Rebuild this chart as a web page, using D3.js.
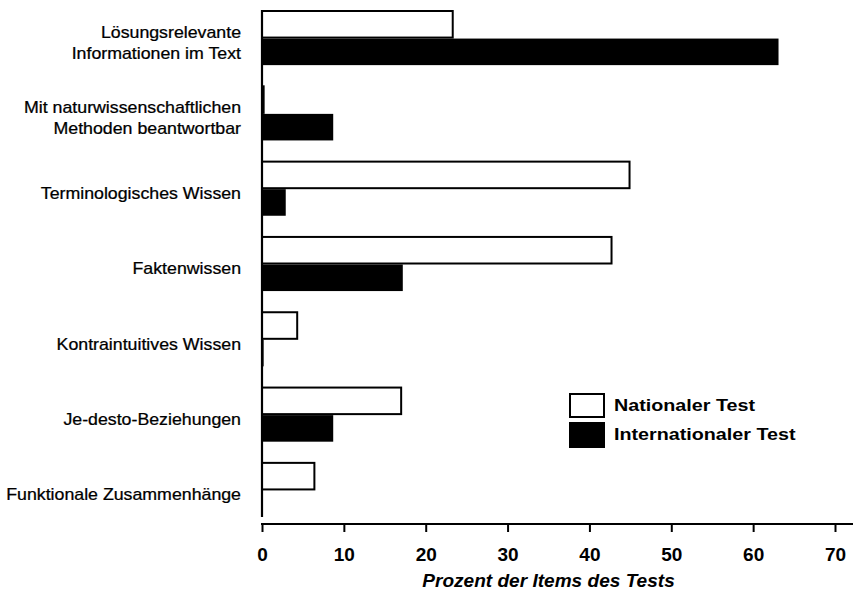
<!DOCTYPE html>
<html>
<head>
<meta charset="utf-8">
<script src="https://cdn.jsdelivr.net/npm/d3@7/dist/d3.min.js"></script>
<style>
  html, body { margin: 0; padding: 0; background: #fff; }
  svg { display: block; }
  text { font-family: "Liberation Sans", Arial, Helvetica, sans-serif; fill: #000; }
</style>
</head>
<body>
<svg id="chart" width="856" height="596"></svg>
<script>
// ---- data ----
const categories = [
  ["Lösungsrelevante", "Informationen im Text"],
  ["Mit naturwissenschaftlichen", "Methoden beantwortbar"],
  ["Terminologisches Wissen"],
  ["Faktenwissen"],
  ["Kontraintuitives Wissen"],
  ["Je-desto-Beziehungen"],
  ["Funktionale Zusammenhänge"]
];
const seriesNames = ["Nationaler Test", "Internationaler Test"];
const nationalValues = [23.3, 0.2, 44.9, 42.7, 4.3, 17.0, 6.4];
const internationalValues = [63.1, 8.7, 2.9, 17.2, 0.2, 8.7, 0];
const xTicks = [0, 10, 20, 30, 40, 50, 60, 70];
const xTitle = "Prozent der Items des Tests";

// ---- layout ----
const svg = d3.select("#chart");
const W = 856, H = 596;
const plotLeft = 262, plotTop = 10, plotBottom = 517, axisY = 524;

const x = d3.scaleLinear().domain([0, 70]).range([plotLeft, 835]);
const catIdx = categories.map((d, i) => i);
const y = d3.scaleBand().domain(catIdx).range([plotTop, plotBottom]).paddingInner(0.268).paddingOuter(0);
const ySub = d3.scaleBand().domain([0, 1]).range([0, y.bandwidth()]).padding(0);

const rows = catIdx.map(i => ({ i, vals: [nationalValues[i], internationalValues[i]] }));

// bars
const g = svg.append("g");
rows.forEach(r => {
  r.vals.forEach((v, s) => {
    if (v <= 0) return;
    const y0 = y(r.i) + ySub(s);
    if (s === 0) {
      g.append("rect")
        .attr("x", x(0)).attr("y", y0 + 1)
        .attr("width", Math.max(0.5, x(v) - x(0)))
        .attr("height", ySub.bandwidth() - 1)
        .attr("fill", "#fff").attr("stroke", "#000").attr("stroke-width", 2);
    } else {
      g.append("rect")
        .attr("x", x(0)).attr("y", y0 + 1)
        .attr("width", Math.max(1, x(v) - x(0)))
        .attr("height", ySub.bandwidth() - 1)
        .attr("fill", "#000");
    }
  });
});

// y axis line
svg.append("line")
  .attr("x1", x(0)).attr("x2", x(0))
  .attr("y1", plotTop).attr("y2", plotBottom)
  .attr("stroke", "#000").attr("stroke-width", 2.2);

// x axis
const xAxis = d3.axisBottom(x).tickValues(xTicks).tickSize(8).tickSizeOuter(0).tickFormat(d3.format("d"));
const ax = svg.append("g").attr("transform", `translate(0,${axisY})`).call(xAxis);
ax.select(".domain").remove();
ax.append("line").attr("x1", x(0) - 1).attr("x2", W - 3).attr("y1", 0).attr("y2", 0)
  .attr("stroke", "#000").attr("stroke-width", 2.2);
ax.selectAll(".tick line").attr("stroke", "#000").attr("stroke-width", 2);
ax.selectAll(".tick text")
  .attr("y", 37).attr("dy", 0)
  .style("font-family", "'Liberation Sans', Arial, sans-serif")
  .style("font-size", "19px").style("font-weight", "bold").attr("fill", "#000");

// x title
svg.append("g").attr("transform", `translate(${(x(0) + x(70)) / 2},587) scale(1.06,1)`)
  .append("text").attr("text-anchor", "middle")
  .style("font-size", "18px").style("font-weight", "bold").style("font-style", "italic")
  .text(xTitle);

// category labels
const labFs = 16, lineH = 21;
rows.forEach(r => {
  const lines = categories[r.i];
  const cy = y(r.i) + y.bandwidth() / 2 + 5;
  const gl = svg.append("g").attr("transform", `translate(241,${cy}) scale(1.11,1)`);
  lines.forEach((ln, k) => {
    const off = (k - (lines.length - 1) / 2) * lineH + labFs * 0.36;
    gl.append("text").attr("text-anchor", "end").attr("y", off)
      .attr("stroke", "#000").attr("stroke-width", 0.25)
      .style("font-size", labFs + "px").text(ln);
  });
});

// legend
const legX = 569, legY = [393, 422];
seriesNames.forEach((name, s) => {
  svg.append("rect")
    .attr("x", legX + (s === 0 ? 1 : 0)).attr("y", legY[s] + (s === 0 ? 1 : 0))
    .attr("width", s === 0 ? 34 : 36).attr("height", s === 0 ? 23 : 26)
    .attr("fill", s === 0 ? "#fff" : "#000")
    .attr("stroke", "#000").attr("stroke-width", s === 0 ? 2 : 0);
  svg.append("g").attr("transform", `translate(614,${legY[s] + 12 + 6}) scale(1.16,1)`)
    .append("text").style("font-size", "17px").style("font-weight", "bold").text(name);
});
</script>
</body>
</html>
